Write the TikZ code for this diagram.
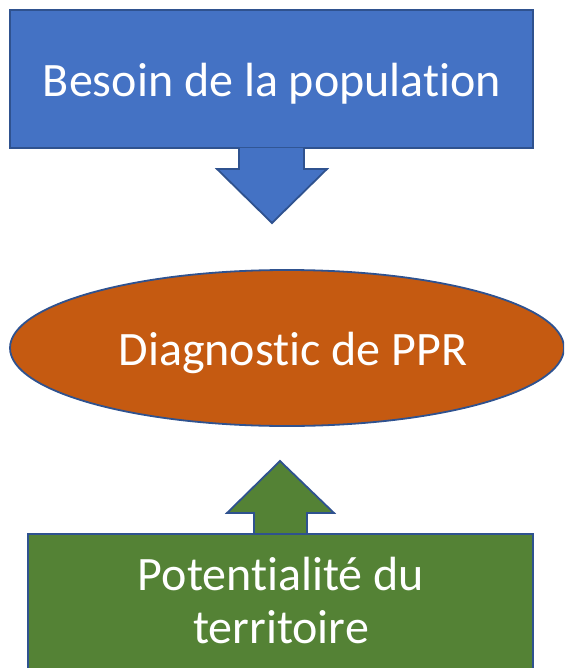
\documentclass[tikz,border=0pt]{standalone}
\usepackage{fontspec}
\setmainfont{Carlito}[Ligatures={TeX,NoCommon}]
\usetikzlibrary{shapes.geometric}
\definecolor{cblue}{HTML}{4472C4}
\definecolor{cborder}{HTML}{2F528F}
\definecolor{corange}{HTML}{C55A11}
\definecolor{cgreen}{HTML}{548235}
\tikzset{
  shapeline/.style={draw=cborder, line width=1.8pt, line join=miter},
  lbl/.style={text=white, font=\fontsize{48}{53}\selectfont, anchor=base, inner sep=0pt},
}
\begin{document}
\begin{tikzpicture}[x=1pt,y=-1pt]
\useasboundingbox (0,0) rectangle (564,668);
\clip (0,0) rectangle (564,668);
% top box
\node[shapeline, fill=cblue, rectangle, minimum width=523pt, minimum height=138pt, inner sep=0pt] (besoin) at (271.5,79) {};
\node[lbl] (besointxt) at (272,97) {Besoin de la population};
% top arrow
\draw[shapeline, fill=cblue] (239,148) -- (239,169) -- (217,169) -- (272,223) -- (327,169) -- (304,169) -- (304,148);
% ellipse
\node[shapeline, fill=corange, ellipse, minimum width=554pt, minimum height=156pt, inner sep=0pt] (diag) at (287,348) {};
\node[lbl] (diagtxt) at (293,365) {Diagnostic de PPR};
% bottom arrow
\draw[shapeline, fill=cgreen] (254,534) -- (254,513) -- (227,513) -- (280,461) -- (334,513) -- (307,513) -- (307,534);
% bottom box
\node[shapeline, fill=cgreen, rectangle, minimum width=505pt, minimum height=160pt, inner sep=0pt] (potent) at (280.5,614) {};
\node[lbl] (potenttxt1) at (281,590) {Potentialité du};
\node[lbl] (potenttxt2) at (281,643) {territoire};
\end{tikzpicture}
\end{document}
